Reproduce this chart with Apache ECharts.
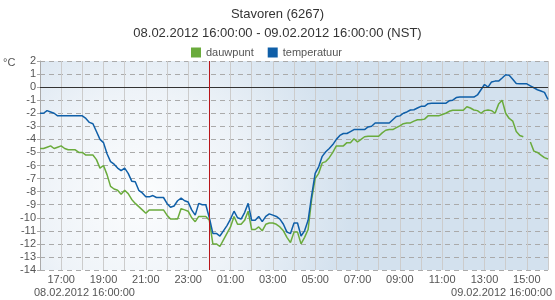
<!DOCTYPE html>
<html>
<head>
<meta charset="utf-8">
<script src="https://cdn.jsdelivr.net/npm/echarts@6/dist/echarts.min.js"></script>
<style>
html,body{margin:0;padding:0;background:#fff;}
#chart{width:555px;height:300px;}
</style>
</head>
<body>
<div id="chart"></div>
<script>
// 10-minute readings from 08.02.2012 16:00 to 09.02.2012 16:00 (145 points)
const temperatuur = [
 -2.0,-2.0,-1.8,-1.9,-2.0,-2.2, -2.2,-2.2,-2.2,-2.2,-2.2,-2.2,
 -2.2,-2.4,-2.7,-2.8,-3.4,-4.0, -4.25,-5.1,-5.7,-5.9,-6.2,-6.4,
 -6.2,-6.6,-7.2,-7.25,-7.9,-8.1, -8.4,-8.4,-8.3,-8.45,-8.45,-8.45,
 -8.9,-9.2,-9.1,-8.7,-8.5,-8.7, -8.8,-9.4,-9.8,-8.9,-9.0,-9.0,
 -10.0,-11.2,-11.2,-11.4,-11.0,-10.6, -10.1,-9.5,-10.0,-10.1,-9.6,-8.9,
 -10.2,-10.2,-9.9,-10.3,-9.9,-9.7, -9.8,-9.9,-10.1,-10.5,-11.1,-11.2,
 -10.4,-10.4,-11.4,-11.0,-10.2,-8.3, -6.6,-6.1,-5.3,-4.95,-4.7,-4.4,
 -4.0,-3.7,-3.55,-3.55,-3.4,-3.25, -3.25,-3.25,-3.25,-3.05,-3.0,-2.75,
 -2.75,-2.75,-2.75,-2.75,-2.5,-2.25, -2.2,-2.0,-1.9,-1.75,-1.73,-1.6,
 -1.47,-1.47,-1.27,-1.24,-1.24,-1.24, -1.24,-1.24,-1.05,-1.0,-0.8,-0.76,
 -0.76,-0.76,-0.76,-0.76,-0.6,-0.2, 0.2,0.0,0.4,0.46,0.46,0.7,
 0.95,0.9,0.6,0.27,0.25,0.25, 0.25,0.1,-0.05,-0.2,-0.3,-0.4,
 -0.95
];
const dauwpunt = [
 -4.7,-4.7,-4.6,-4.5,-4.7,-4.6, -4.5,-4.7,-4.8,-4.8,-4.8,-5.0,
 -5.0,-5.2,-5.2,-5.2,-5.55,-6.2, -6.0,-6.7,-7.6,-7.8,-7.9,-8.2,
 -7.9,-8.15,-8.6,-8.9,-9.15,-9.4, -9.65,-9.4,-9.4,-9.4,-9.4,-9.4,
 -9.8,-10.1,-10.1,-10.1,-9.3,-9.4, -9.5,-10.0,-10.3,-9.9,-9.9,-9.9,
 -10.2,-12.0,-12.0,-12.2,-11.7,-11.2, -10.7,-9.9,-10.5,-10.5,-10.2,-9.5,
 -10.9,-10.9,-10.7,-11.0,-10.5,-10.4, -10.4,-10.5,-10.7,-11.0,-11.5,-11.9,
 -11.1,-11.1,-12.0,-11.5,-10.9,-8.6, -7.0,-6.6,-5.8,-5.7,-5.4,-5.0,
 -4.5,-4.5,-4.5,-4.25,-4.25,-3.95, -4.2,-4.0,-3.8,-3.76,-3.76,-3.76,
 -3.76,-3.5,-3.3,-3.25,-3.25,-3.1, -2.97,-2.8,-2.74,-2.74,-2.6,-2.5,
 -2.5,-2.45,-2.2,-2.2,-2.2,-2.2, -2.1,-2.0,-1.85,-1.77,-1.77,-1.77,
 -1.77,-1.5,-1.6,-1.75,-1.8,-2.0, -1.8,-1.75,-1.8,-2.0,-1.3,-1.0,
 -2.0,-2.4,-2.6,-3.4,-3.7,-3.8, null,-4.2,-4.9,-5.0,-5.2,-5.4,
 -5.5
];
const startHour = 16;          // 08.02.2012 16:00
const stepsPerHour = 6;        // 10-minute readings
const yTicks = [2,1,0,-1,-2,-3,-4,-5,-6,-7,-8,-9,-10,-11,-12,-13,-14];
const xTickLabels = ['17:00','19:00','21:00','23:00','01:00','03:00','05:00','07:00','09:00','11:00','13:00','15:00'];
const titleText = 'Stavoren (6267)';
const subText = '08.02.2012 16:00:00 - 09.02.2012 16:00:00 (NST)';
const startLabel = '08.02.2012 16:00:00';
const endLabel = '09.02.2012 16:00:00';

const font = 'Liberation Sans, Arial, Helvetica, sans-serif';
const toPairs = arr => arr.map((v, i) => [i / stepsPerHour, v === null ? '-' : v]);

const chart = echarts.init(document.getElementById('chart'), null, {renderer: 'canvas'});
chart.setOption({
  animation: false,
  textStyle: {fontFamily: font},
  title: {
    text: titleText, subtext: subText, left: 'center', top: 3, itemGap: 6,
    textStyle: {fontSize: 13, fontWeight: 'normal', color: '#333', fontFamily: font},
    subtextStyle: {fontSize: 13, color: '#333', fontFamily: font}
  },
  legend: {
    top: 42, left: 186, itemWidth: 10, itemHeight: 10, itemGap: 14, icon: 'rect',
    textStyle: {fontSize: 11, color: '#555', fontFamily: font},
    data: ['dauwpunt', 'temperatuur']
  },
  grid: {
    left: 40, right: 7, top: 61, bottom: 30, show: true, borderWidth: 0,
    backgroundColor: {
      type: 'radial', x: 0.2, y: 0.65, r: 1.0,
      colorStops: [{offset: 0, color: '#fcfdfe'}, {offset: 0.5, color: '#eef3f8'}, {offset: 1, color: '#d3e1ee'}]
    }
  },
  xAxis: {
    type: 'value', min: 0, max: 24, interval: 1,
    axisLine: {show: true, lineStyle: {color: '#aaa'}},
    axisTick: {show: false},
    splitLine: {show: true, lineStyle: {color: '#cccccc', width: 1}},
    axisLabel: {
      color: '#555', fontSize: 11, margin: 4, fontFamily: font,
      formatter: v => {
        const idx = xTickLabels.indexOf(String((startHour + v) % 24).padStart(2, '0') + ':00');
        return idx >= 0 ? xTickLabels[idx] : '';
      }
    }
  },
  yAxis: {
    type: 'value', min: yTicks[yTicks.length - 1], max: yTicks[0], interval: 1,
    axisLine: {show: true, lineStyle: {color: '#aaa'}},
    axisTick: {show: true, length: 3, lineStyle: {color: '#aaa'}},
    splitLine: {show: true, lineStyle: {color: '#aaaaaa', type: [5, 4], width: 1}},
    axisLabel: {color: '#555', fontSize: 11, margin: 4, fontFamily: font}
  },
  graphic: [
    {type: 'text', left: 3, top: 57, style: {text: '°C', fontSize: 11, fill: '#555', fontFamily: font}},
    {type: 'text', left: 34, top: 287, style: {text: startLabel, fontSize: 11, fill: '#555', fontFamily: font}},
    {type: 'text', right: 3, top: 287, style: {text: endLabel, fontSize: 11, fill: '#555', fontFamily: font}}
  ],
  series: [
    {
      name: 'dauwpunt', type: 'line', data: toPairs(dauwpunt), showSymbol: false, symbol: 'none',
      connectNulls: false, color: '#6aab3c', lineStyle: {width: 1.5, color: '#6aab3c'},
      emphasis: {disabled: true},
      markLine: {
        silent: true, symbol: 'none', label: {show: false}, animation: false,
        data: [
          {yAxis: 0, lineStyle: {color: '#333', width: 1, type: 'solid'}},
          {xAxis: 8, lineStyle: {color: '#b8161b', width: 1, type: 'solid'}}
        ]
      }
    },
    {
      name: 'temperatuur', type: 'line', data: toPairs(temperatuur), showSymbol: false, symbol: 'none',
      color: '#0f5fa8', lineStyle: {width: 1.5, color: '#0f5fa8'},
      emphasis: {disabled: true}
    }
  ]
});
</script>
</body>
</html>
